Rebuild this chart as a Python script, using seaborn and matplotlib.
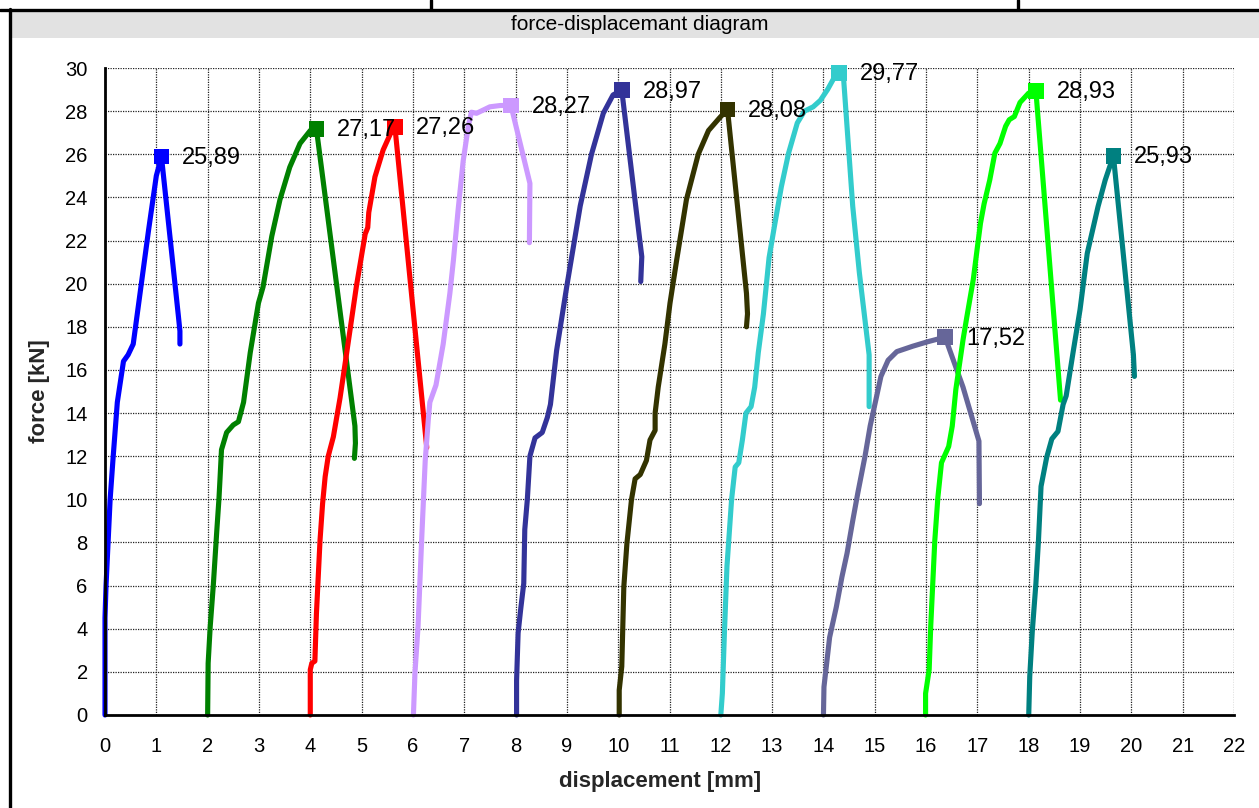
import matplotlib
matplotlib.use("Agg")
import matplotlib.pyplot as plt
import pandas as pd
import seaborn as sns
from matplotlib.lines import Line2D
from matplotlib.patches import Rectangle

# ---- measured force-displacement curves (displacement in mm, force in kN) ----
disp_1 = [0.0, 0.0, 0.02, 0.06, 0.1, 0.16, 0.24, 0.36, 0.45, 0.55, 0.68, 0.85, 1.0, 1.1, 1.43, 1.46, 1.46]
force_1 = [0.0, 4.5, 6.0, 8.0, 10.0, 12.0, 14.5, 16.4, 16.7, 17.2, 19.5, 22.5, 25.0, 25.89, 18.5, 17.8, 17.2]

disp_2 = [2.0, 2.01, 2.05, 2.11, 2.18, 2.22, 2.24, 2.27, 2.37, 2.5, 2.6, 2.7, 2.83, 2.99, 3.08, 3.25, 3.41,
          3.6, 3.8, 4.0, 4.12, 4.87, 4.88, 4.86]
force_2 = [0.0, 2.4, 4.1, 6.0, 8.6, 10.0, 10.9, 12.3, 13.1, 13.45, 13.6, 14.5, 16.8, 19.1, 19.85, 22.2, 23.9,
           25.4, 26.5, 27.1, 27.17, 13.4, 12.6, 11.9]

disp_3 = [4.0, 4.0, 4.03, 4.09, 4.12, 4.19, 4.24, 4.29, 4.35, 4.45, 4.58, 4.71, 4.9, 5.07, 5.12, 5.14, 5.26,
          5.42, 5.59, 5.65, 6.27]
force_3 = [0.0, 2.1, 2.4, 2.5, 4.7, 8.1, 9.8, 11.05, 12.0, 12.9, 14.7, 16.8, 19.9, 22.3, 22.6, 23.3, 24.95,
           26.2, 27.1, 27.26, 12.4]

disp_4 = [6.01, 6.04, 6.1, 6.17, 6.24, 6.3, 6.33, 6.45, 6.59, 6.72, 6.79, 6.88, 6.98, 7.08, 7.14, 7.24, 7.5,
          7.7, 7.91, 8.28, 8.27]
force_4 = [0.0, 1.95, 4.1, 8.1, 11.8, 13.7, 14.5, 15.3, 17.2, 19.55, 21.1, 23.4, 25.7, 27.3, 27.95, 27.9, 28.2,
           28.26, 28.27, 24.65, 21.9]

disp_5 = [8.02, 8.02, 8.05, 8.1, 8.16, 8.18, 8.23, 8.28, 8.38, 8.52, 8.62, 8.68, 8.8, 9.0, 9.26, 9.48, 9.71,
          9.9, 10.07, 10.46, 10.44]
force_5 = [0.0, 1.6, 3.8, 4.9, 6.1, 8.6, 10.0, 12.0, 12.85, 13.1, 13.8, 14.4, 16.9, 19.9, 23.6, 26.0, 27.9,
           28.75, 28.97, 21.25, 20.1]

disp_6 = [10.02, 10.02, 10.07, 10.11, 10.17, 10.26, 10.33, 10.43, 10.55, 10.62, 10.72, 10.72, 10.78, 10.91,
          11.01, 11.14, 11.33, 11.56, 11.76, 11.98, 12.13, 12.5, 12.52, 12.5]
force_6 = [0.0, 1.15, 2.25, 5.95, 7.95, 10.0, 10.95, 11.15, 11.8, 12.75, 13.2, 14.0, 15.2, 17.2,
           19.1, 21.1, 23.9, 26.0, 27.1, 27.7, 28.08, 19.55, 18.6, 18.0]

disp_7 = [12.0, 12.03, 12.07, 12.12, 12.21, 12.28, 12.35, 12.42, 12.49, 12.59, 12.66, 12.73, 12.83, 12.94,
          13.04, 13.18, 13.32, 13.49, 13.63, 13.8, 13.94, 14.08, 14.22, 14.3, 14.39, 14.57, 14.7, 14.84,
          14.89, 14.89]
force_7 = [0.0, 1.0, 3.8, 6.9, 10.0, 11.5, 11.7, 12.75, 14.0, 14.3, 15.2, 16.8, 18.6, 21.2,
           22.6, 24.5, 26.05, 27.45, 28.0, 28.2, 28.5, 29.0, 29.6, 29.77, 29.6, 23.6, 20.5, 17.7,
           16.7, 14.3]

disp_8 = [14.0, 14.01, 14.12, 14.25, 14.36, 14.46, 14.57, 14.67, 14.81, 14.91, 15.02, 15.12, 15.26, 15.43,
          15.74, 16.02, 16.37, 16.72, 17.03, 17.04]
force_8 = [0.0, 1.3, 3.6, 5.0, 6.4, 7.5, 9.0, 10.3, 12.0, 13.4, 14.6, 15.7, 16.45, 16.85,
           17.1, 17.3, 17.52, 15.2, 12.7, 9.8]

disp_9 = [15.99, 15.99, 16.06, 16.09, 16.13, 16.17, 16.23, 16.3, 16.44, 16.51, 16.58, 16.72, 16.79, 16.92,
          17.0, 17.06, 17.13, 17.24, 17.34, 17.44, 17.55, 17.62, 17.72, 17.83, 18.0, 18.14, 18.62]
force_9 = [0.0, 1.0, 2.1, 4.1, 6.1, 8.1, 10.1, 11.7, 12.45, 13.4, 15.1, 17.4, 18.4, 20.2,
           21.7, 22.8, 23.7, 24.8, 26.05, 26.5, 27.3, 27.6, 27.75, 28.4, 28.84, 28.93, 14.6]

disp_10 = [18.0, 18.02, 18.07, 18.14, 18.19, 18.24, 18.35, 18.45, 18.57, 18.67, 18.73, 18.87, 19.0, 19.14,
           19.35, 19.49, 19.65, 20.04, 20.06]
force_10 = [0.0, 1.8, 3.9, 6.1, 8.1, 10.6, 11.95, 12.8, 13.15, 14.4, 14.8, 16.9, 18.8, 21.4,
            23.57, 24.8, 25.93, 16.7, 15.7]

specimens = ["1", "2", "3", "4", "5", "6", "7", "8", "9", "10"]
colors = ["#0000FF", "#008000", "#FF0000", "#CC99FF", "#333399",
          "#333300", "#33CCCC", "#666699", "#00FF00", "#008080"]

x_ticks = list(range(0, 23))
y_ticks = list(range(0, 31, 2))
title = "force-displacemant diagram"
x_label = "displacement [mm]"
y_label = "force [kN]"

curves = [(disp_1, force_1), (disp_2, force_2), (disp_3, force_3), (disp_4, force_4), (disp_5, force_5),
          (disp_6, force_6), (disp_7, force_7), (disp_8, force_8), (disp_9, force_9), (disp_10, force_10)]

rows = []
for name, (xs, ys) in zip(specimens, curves):
    for i, (xv, yv) in enumerate(zip(xs, ys)):
        rows.append({"specimen": name, "step": i, "displacement": xv, "force": yv})
df = pd.DataFrame(rows)

# peak (maximum force) of every curve
peaks = df.loc[df.groupby("specimen", sort=False)["force"].idxmax()].reset_index(drop=True)

sns.set_style("white")
plt.rcParams["font.family"] = ["Liberation Sans", "DejaVu Sans"]

W, H = 1259, 808
fig = plt.figure(figsize=(W / 100, H / 100), dpi=100)


def fx(px):
    return px / W


def fy(py):
    return 1 - py / H


# page frame and title band
fig.add_artist(Rectangle((fx(11), fy(38)), fx(W - 11), 27 / H, transform=fig.transFigure,
                         facecolor="#e2e2e2", edgecolor="none"))
fig.add_artist(Line2D([0, 1], [fy(9.8), fy(9.8)], transform=fig.transFigure, color="black", lw=2.4))
fig.add_artist(Line2D([fx(9.5), fx(9.5)], [0, fy(9)], transform=fig.transFigure, color="black", lw=2.4))
for xd in (430.5, 1017.5):
    fig.add_artist(Line2D([fx(xd), fx(xd)], [fy(0), fy(9)], transform=fig.transFigure, color="black", lw=2.4))
fig.text(fx(640), fy(24), title, ha="center", va="center", fontsize=15, color="black")

ax = fig.add_axes([fx(105), 93 / H, 1129 / W, 647 / H])

palette = dict(zip(specimens, colors))
for name in specimens:
    sub = df[df["specimen"] == name]
    sns.lineplot(data=sub, x="displacement", y="force", sort=False, estimator=None,
                 color=palette[name], lw=3.7, ax=ax, legend=False)
for line in ax.lines:
    line.set_solid_joinstyle("round")
    line.set_solid_capstyle("round")
    line.set_clip_on(False)

sns.scatterplot(data=peaks, x="displacement", y="force", hue="specimen", palette=palette,
                marker="s", s=125, linewidth=0, legend=False, ax=ax, zorder=5, clip_on=False)

for _, r in peaks.iterrows():
    ax.annotate(f"{r['force']:.2f}".replace(".", ","), (r["displacement"], r["force"]),
                xytext=(15, -1), textcoords="offset points", ha="left", va="center",
                fontsize=17, color="black", zorder=6)

ax.set_xlim(0, 22)
ax.set_ylim(0, 30)
ax.set_xticks(x_ticks)
ax.set_yticks(y_ticks)
ax.grid(True, color="#222222", linestyle=(0, (1, 1)), linewidth=0.9)
ax.set_axisbelow(True)
for side in ("top", "right"):
    ax.spines[side].set_visible(False)
for side in ("left", "bottom"):
    ax.spines[side].set_color("black")
    ax.spines[side].set_linewidth(2.0)
ax.tick_params(axis="both", which="major", direction="out", length=4.5, width=1.5,
               color="black", labelsize=14.5, labelcolor="black")
ax.tick_params(axis="y", pad=8)
ax.tick_params(axis="x", pad=11)

ax.set_xlabel(x_label, fontsize=16, fontweight="bold")
ax.set_ylabel(y_label, fontsize=16, fontweight="bold")
ax.xaxis.set_label_coords((660 - 105) / 1129, (715 - 781) / 647)
ax.xaxis.label.set_va("center")
ax.yaxis.set_label_coords((39 - 105) / 1129, 0.5)
ax.yaxis.label.set_va("center")

fig.savefig("out.png", dpi=100)
